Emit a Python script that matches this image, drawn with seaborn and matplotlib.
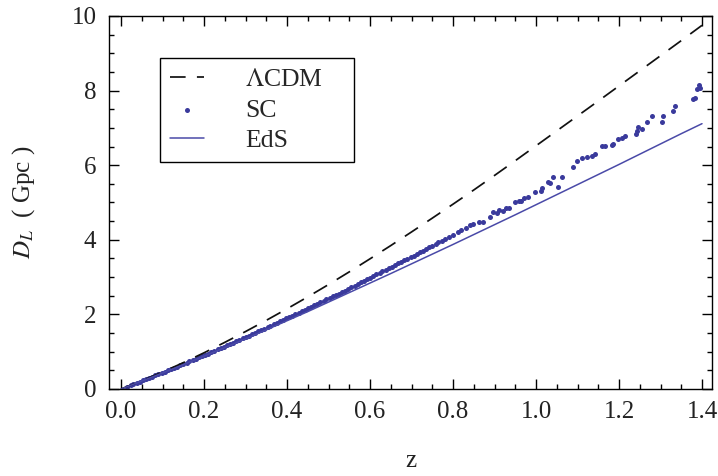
import numpy as np
import pandas as pd
import matplotlib
matplotlib.use("Agg")
import matplotlib.pyplot as plt
import seaborn as sns
from matplotlib.ticker import MultipleLocator

# ---- data ----
z_grid = [0.00, 0.05, 0.10, 0.15, 0.20, 0.25, 0.30, 0.35, 0.40, 0.45, 0.50,
          0.55, 0.60, 0.65, 0.70, 0.75, 0.80, 0.85, 0.90, 0.95, 1.00,
          1.05, 1.10, 1.15, 1.20, 1.25, 1.30, 1.35, 1.40]
lcdm_dl = [0.0, 0.22, 0.455, 0.705, 0.97, 1.25, 1.54, 1.84, 2.15, 2.47, 2.80,
           3.14, 3.49, 3.845, 4.21, 4.58, 4.955, 5.335, 5.725, 6.12, 6.52,
           6.92, 7.32, 7.72, 8.125, 8.53, 8.935, 9.34, 9.75]
eds_dl = [0.0, 0.212, 0.43, 0.652, 0.88, 1.11, 1.345, 1.585, 1.83, 2.075, 2.33,
          2.585, 2.84, 3.095, 3.355, 3.615, 3.875, 4.14, 4.405, 4.67, 4.94,
          5.21, 5.48, 5.75, 6.02, 6.295, 6.57, 6.845, 7.113]

sc_z = [0.015, 0.023, 0.030, 0.038, 0.045, 0.052, 0.060, 0.068, 0.075, 0.083,
        0.090, 0.098, 0.105, 0.113, 0.120, 0.128, 0.135, 0.143, 0.150, 0.158,
        0.165, 0.173, 0.180, 0.188, 0.195, 0.203, 0.210, 0.218, 0.225, 0.233,
        0.240, 0.248, 0.255, 0.263, 0.270, 0.278, 0.285, 0.293, 0.300, 0.308,
        0.315, 0.323, 0.330, 0.338, 0.345, 0.353, 0.360, 0.368, 0.375, 0.383,
        0.390, 0.398, 0.405, 0.413, 0.420, 0.428, 0.435, 0.443, 0.450, 0.458,
        0.465, 0.473, 0.480, 0.488, 0.495, 0.503, 0.510, 0.518, 0.525, 0.533,
        0.540, 0.548, 0.555, 0.563, 0.570, 0.578, 0.585, 0.593, 0.600, 0.608,
        0.615, 0.623, 0.630, 0.638, 0.645, 0.653, 0.660, 0.668, 0.675, 0.683,
        0.690, 0.698, 0.705, 0.713, 0.720, 0.728, 0.735, 0.743, 0.750, 0.758,
        0.765, 0.773, 0.780, 0.790, 0.800, 0.812, 0.820, 0.832, 0.841, 0.848,
        0.862, 0.872, 0.889, 0.897, 0.905, 0.912, 0.920, 0.928, 0.936, 0.950,
        0.958, 0.965, 0.972, 0.980, 0.998, 1.012, 1.014, 1.030, 1.034, 1.041,
        1.053, 1.063, 1.089, 1.099, 1.111, 1.122, 1.135, 1.142, 1.159, 1.166,
        1.183, 1.186, 1.198, 1.207, 1.214, 1.241, 1.243, 1.246, 1.255, 1.267,
        1.279, 1.304, 1.306, 1.330, 1.335, 1.378, 1.383, 1.388, 1.393, 1.395]
sc_dl = [0.065, 0.10, 0.13, 0.165, 0.20, 0.23, 0.26, 0.30, 0.33, 0.365,
         0.40, 0.43, 0.465, 0.50, 0.53, 0.57, 0.60, 0.635, 0.67, 0.705,
         0.74, 0.775, 0.81, 0.845, 0.88, 0.915, 0.95, 0.99, 1.02, 1.06,
         1.10, 1.13, 1.17, 1.21, 1.24, 1.28, 1.32, 1.355, 1.39, 1.43,
         1.47, 1.51, 1.545, 1.585, 1.62, 1.66, 1.70, 1.74, 1.775, 1.815,
         1.855, 1.89, 1.93, 1.97, 2.01, 2.05, 2.09, 2.13, 2.165, 2.21,
         2.245, 2.285, 2.32, 2.36, 2.40, 2.44, 2.48, 2.52, 2.56, 2.60,
         2.64, 2.69, 2.73, 2.77, 2.81, 2.86, 2.90, 2.94, 2.98, 3.02,
         3.07, 3.11, 3.15, 3.20, 3.24, 3.28, 3.33, 3.37, 3.41, 3.45,
         3.49, 3.53, 3.57, 3.62, 3.66, 3.71, 3.75, 3.80, 3.84, 3.89,
         3.93, 3.98, 4.03, 4.08, 4.14, 4.20, 4.26, 4.32, 4.40, 4.43,
         4.47, 4.49, 4.62, 4.74, 4.72, 4.80, 4.78, 4.86, 4.84, 5.00,
         5.05, 5.03, 5.12, 5.15, 5.29, 5.30, 5.40, 5.55, 5.53, 5.68,
         5.42, 5.69, 5.94, 6.11, 6.19, 6.22, 6.25, 6.30, 6.51, 6.51,
         6.54, 6.57, 6.70, 6.73, 6.78, 6.84, 6.92, 7.03, 6.97, 7.16,
         7.32, 7.16, 7.32, 7.46, 7.59, 7.78, 7.81, 8.05, 8.16, 8.08]

x_ticks = [0.0, 0.2, 0.4, 0.6, 0.8, 1.0, 1.2, 1.4]
y_ticks = [0, 2, 4, 6, 8, 10]

# ---- style ----
sns.set_theme(style="ticks")
plt.rcParams['font.family'] = ['Liberation Serif', 'DejaVu Serif']
plt.rcParams['mathtext.fontset'] = 'stix'

line_blue = '#4a4aa8'
dot_blue = '#3a3a9c'

fig = plt.figure(figsize=(7.18, 4.76), dpi=100)
ax = fig.add_axes([0.1518, 0.1828, 0.8398, 0.7836])

lines_df = pd.DataFrame({'z': z_grid, 'lcdm': lcdm_dl, 'eds': eds_dl})
sc_df = pd.DataFrame({'z': sc_z, 'dl': sc_dl})

sns.lineplot(data=lines_df, x='z', y='lcdm', ax=ax, color='#111111',
             linewidth=1.25, estimator=None, label=r'$\Lambda$CDM')
ax.lines[-1].set_linestyle((0, (9, 6.5)))
sns.scatterplot(data=sc_df, x='z', y='dl', ax=ax, color=dot_blue, s=13,
                linewidth=0, label='SC')
sns.lineplot(data=lines_df, x='z', y='eds', ax=ax, color=line_blue,
             linewidth=1.1, estimator=None, label='EdS')

ax.set_xlim(-0.029, 1.424)
ax.set_ylim(0, 10)
ax.set_xticks(x_ticks)
ax.set_xticklabels([f'{v:.1f}' for v in x_ticks])
ax.set_yticks(y_ticks)
ax.set_yticklabels([str(v) for v in y_ticks])
ax.xaxis.set_minor_locator(MultipleLocator(0.05))
ax.yaxis.set_minor_locator(MultipleLocator(0.5))
ax.tick_params(which='both', direction='in', top=True, right=True,
               color='black', width=1.0)
ax.tick_params(which='major', length=7, labelsize=18, pad=9, colors='black',
               labelcolor='#222222')
ax.tick_params(which='minor', length=3.6)
for sp in ax.spines.values():
    sp.set_visible(True)
    sp.set_color('black')
    sp.set_linewidth(1.0)

ax.set_xlabel('z', fontsize=18, labelpad=19, color='#222222')
ax.set_ylabel(r'$D_L$  ( Gpc )', fontsize=18, labelpad=25, color='#222222')

leg = ax.legend(loc='upper left', bbox_to_anchor=(0.0846, 0.606, 0.321, 0.281),
                mode='expand', borderaxespad=0, fontsize=18.5, frameon=True,
                fancybox=False, edgecolor='black', framealpha=1,
                handlelength=1.3, handletextpad=1.6, labelspacing=0.28,
                borderpad=0.4, scatterpoints=1)
leg.get_frame().set_linewidth(1.0)

fig.savefig('out.png', dpi=100)
